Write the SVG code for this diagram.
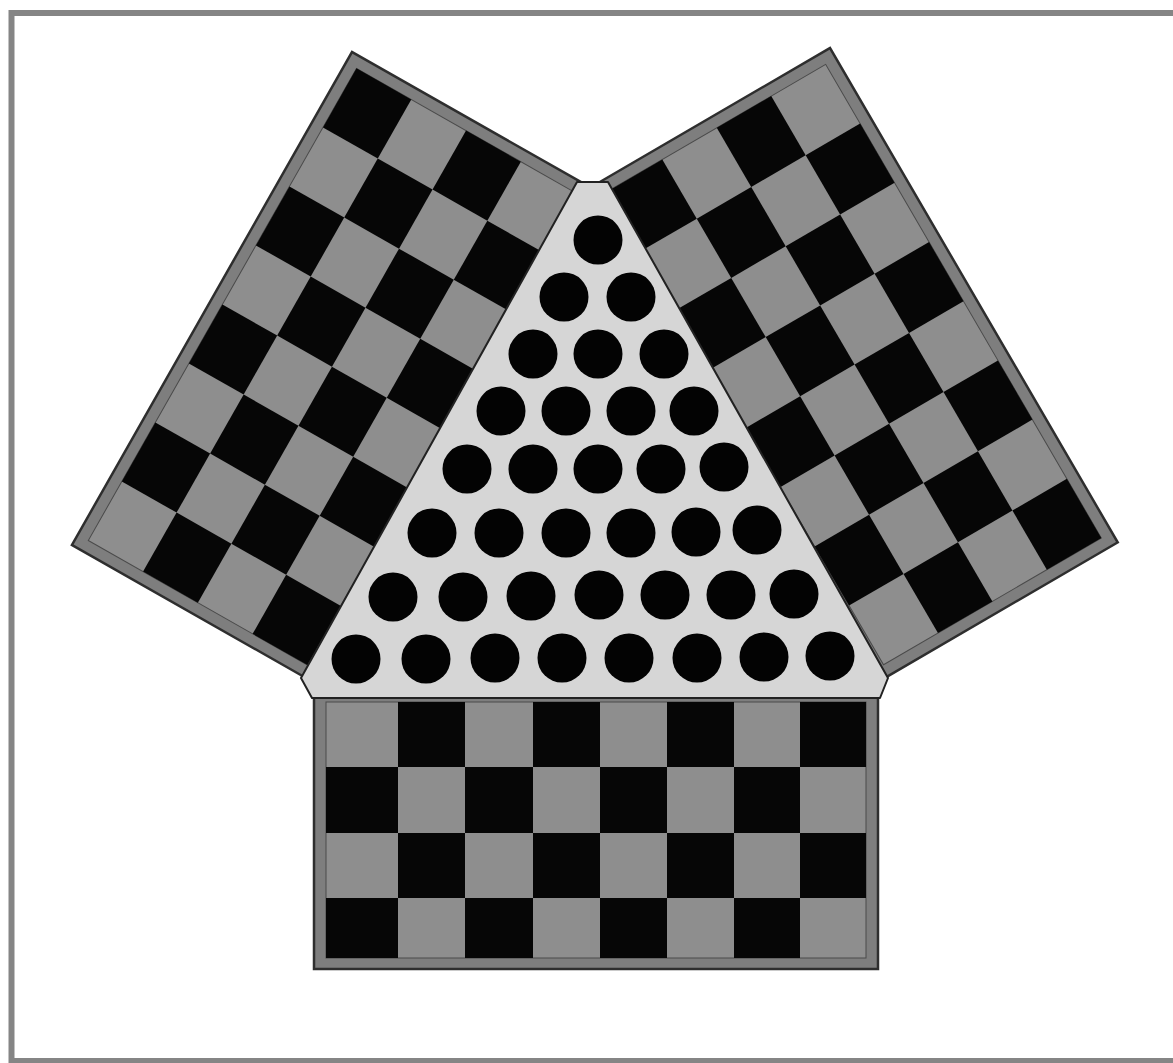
<svg xmlns="http://www.w3.org/2000/svg" width="1173" height="1063" viewBox="0 0 1173 1063">
  <style>
    .frame { fill: #ffffff; stroke: #858585; stroke-width: 6; }
    .board { fill: #7e7e7e; stroke: #2e2e2e; stroke-width: 2.5; }
    .inner { fill: #8e8e8e; stroke: #4a4a4a; stroke-width: 1; }
    .blk { fill: #060606; }
    .tri { fill: #d6d6d6; stroke: #222222; stroke-width: 2; stroke-linejoin: round; }
    .peg { fill: #030303; }
  </style>

  <rect class="frame" x="11.5" y="13" width="1175" height="1048"/>

  <g id="board-left" transform="translate(352,52) rotate(29.6)">
    <rect class="board" x="0" y="0" width="276" height="567"/>
    <rect class="inner" x="12" y="12" width="252" height="543"/>
    <rect class="blk" x="12" y="12" width="63" height="67.875"/>
    <rect class="blk" x="138" y="12" width="63" height="67.875"/>
    <rect class="blk" x="75" y="79.875" width="63" height="67.875"/>
    <rect class="blk" x="201" y="79.875" width="63" height="67.875"/>
    <rect class="blk" x="12" y="147.75" width="63" height="67.875"/>
    <rect class="blk" x="138" y="147.75" width="63" height="67.875"/>
    <rect class="blk" x="75" y="215.625" width="63" height="67.875"/>
    <rect class="blk" x="201" y="215.625" width="63" height="67.875"/>
    <rect class="blk" x="12" y="283.5" width="63" height="67.875"/>
    <rect class="blk" x="138" y="283.5" width="63" height="67.875"/>
    <rect class="blk" x="75" y="351.375" width="63" height="67.875"/>
    <rect class="blk" x="201" y="351.375" width="63" height="67.875"/>
    <rect class="blk" x="12" y="419.25" width="63" height="67.875"/>
    <rect class="blk" x="138" y="419.25" width="63" height="67.875"/>
    <rect class="blk" x="75" y="487.125" width="63" height="67.875"/>
    <rect class="blk" x="201" y="487.125" width="63" height="67.875"/>
  </g>

  <g id="board-right" transform="translate(830,48) rotate(-30.2) scale(-1,1)">
    <rect class="board" x="0" y="0" width="276" height="572"/>
    <rect class="inner" x="12" y="12" width="252" height="548"/>
    <rect class="blk" x="75" y="12" width="63" height="68.5"/>
    <rect class="blk" x="201" y="12" width="63" height="68.5"/>
    <rect class="blk" x="12" y="80.5" width="63" height="68.5"/>
    <rect class="blk" x="138" y="80.5" width="63" height="68.5"/>
    <rect class="blk" x="75" y="149" width="63" height="68.5"/>
    <rect class="blk" x="201" y="149" width="63" height="68.5"/>
    <rect class="blk" x="12" y="217.5" width="63" height="68.5"/>
    <rect class="blk" x="138" y="217.5" width="63" height="68.5"/>
    <rect class="blk" x="75" y="286" width="63" height="68.5"/>
    <rect class="blk" x="201" y="286" width="63" height="68.5"/>
    <rect class="blk" x="12" y="354.5" width="63" height="68.5"/>
    <rect class="blk" x="138" y="354.5" width="63" height="68.5"/>
    <rect class="blk" x="75" y="423" width="63" height="68.5"/>
    <rect class="blk" x="201" y="423" width="63" height="68.5"/>
    <rect class="blk" x="12" y="491.5" width="63" height="68.5"/>
    <rect class="blk" x="138" y="491.5" width="63" height="68.5"/>
  </g>

  <g id="board-bottom">
    <rect class="board" x="314" y="690" width="564" height="279"/>
    <rect class="inner" x="326" y="702" width="540" height="256"/>
    <rect class="blk" x="398" y="702" width="67" height="65"/>
    <rect class="blk" x="533" y="702" width="67" height="65"/>
    <rect class="blk" x="667" y="702" width="67" height="65"/>
    <rect class="blk" x="800" y="702" width="66" height="65"/>
    <rect class="blk" x="326" y="767" width="72" height="66"/>
    <rect class="blk" x="465" y="767" width="68" height="66"/>
    <rect class="blk" x="600" y="767" width="67" height="66"/>
    <rect class="blk" x="734" y="767" width="66" height="66"/>
    <rect class="blk" x="398" y="833" width="67" height="65"/>
    <rect class="blk" x="533" y="833" width="67" height="65"/>
    <rect class="blk" x="667" y="833" width="67" height="65"/>
    <rect class="blk" x="800" y="833" width="66" height="65"/>
    <rect class="blk" x="326" y="898" width="72" height="60"/>
    <rect class="blk" x="465" y="898" width="68" height="60"/>
    <rect class="blk" x="600" y="898" width="67" height="60"/>
    <rect class="blk" x="734" y="898" width="66" height="60"/>
  </g>

  <g id="triangle">
    <polygon class="tri" points="577,182 608,182 888,678 880,698 312,698 301,678"/>
    <g id="pegs">
      <circle class="peg" cx="598" cy="240" r="24.5"/>
      <circle class="peg" cx="564" cy="297" r="24.5"/>
      <circle class="peg" cx="631" cy="297" r="24.5"/>
      <circle class="peg" cx="533" cy="354" r="24.5"/>
      <circle class="peg" cx="598" cy="354" r="24.5"/>
      <circle class="peg" cx="664" cy="354" r="24.5"/>
      <circle class="peg" cx="501" cy="411" r="24.5"/>
      <circle class="peg" cx="566" cy="411" r="24.5"/>
      <circle class="peg" cx="631" cy="411" r="24.5"/>
      <circle class="peg" cx="694" cy="411" r="24.5"/>
      <circle class="peg" cx="467" cy="469" r="24.5"/>
      <circle class="peg" cx="533" cy="469" r="24.5"/>
      <circle class="peg" cx="598" cy="469" r="24.5"/>
      <circle class="peg" cx="661" cy="469" r="24.5"/>
      <circle class="peg" cx="724" cy="467" r="24.5"/>
      <circle class="peg" cx="432" cy="533" r="24.5"/>
      <circle class="peg" cx="499" cy="533" r="24.5"/>
      <circle class="peg" cx="566" cy="533" r="24.5"/>
      <circle class="peg" cx="631" cy="533" r="24.5"/>
      <circle class="peg" cx="696" cy="532" r="24.5"/>
      <circle class="peg" cx="757" cy="530" r="24.5"/>
      <circle class="peg" cx="393" cy="597" r="24.5"/>
      <circle class="peg" cx="463" cy="597" r="24.5"/>
      <circle class="peg" cx="531" cy="596" r="24.5"/>
      <circle class="peg" cx="599" cy="595" r="24.5"/>
      <circle class="peg" cx="665" cy="595" r="24.5"/>
      <circle class="peg" cx="731" cy="595" r="24.5"/>
      <circle class="peg" cx="794" cy="594" r="24.5"/>
      <circle class="peg" cx="356" cy="659" r="24.5"/>
      <circle class="peg" cx="426" cy="659" r="24.5"/>
      <circle class="peg" cx="495" cy="658" r="24.5"/>
      <circle class="peg" cx="562" cy="658" r="24.5"/>
      <circle class="peg" cx="629" cy="658" r="24.5"/>
      <circle class="peg" cx="697" cy="658" r="24.5"/>
      <circle class="peg" cx="764" cy="657" r="24.5"/>
      <circle class="peg" cx="830" cy="656" r="24.5"/>
    </g>
  </g>
</svg>
